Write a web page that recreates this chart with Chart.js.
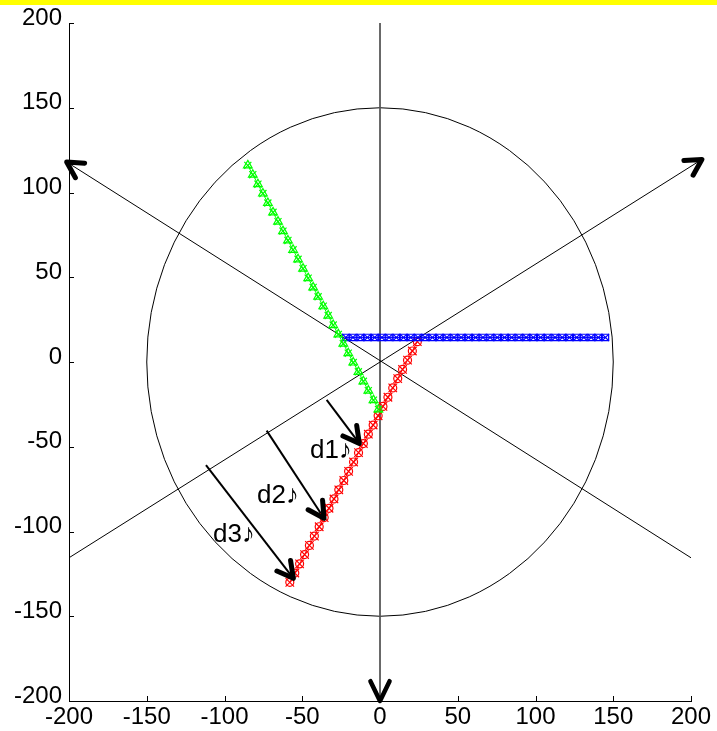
<!DOCTYPE html>
<html>
<head>
<meta charset="utf-8">
<script src="https://cdn.jsdelivr.net/npm/chart.js@4/dist/chart.umd.min.js"></script>
<style>
  html, body { margin: 0; padding: 0; background: #ffffff; }
  #plot { display: block; }
</style>
</head>
<body>
<canvas id="plot" width="717" height="731"></canvas>
<script>
// Axis range and ticks
const axisMin = -200;
const axisMax = 200;
const tickStep = 50;

// Big circle round the origin
const circleRadius = 150;

// Green series (-60 deg)
const greenX = [-85, -81.8, -78.5, -75.3, -72.1, -68.8, -65.6, -62.4, -59.2, -55.9, -52.7, -49.5, -46.2, -43,
    -39.8, -36.5, -33.3, -30.1, -26.8, -23.6, -20.4, -17.2, -13.9, -10.7, -7.5, -4.2, -1];
const greenY = [116, 110.5, 104.9, 99.4, 93.8, 88.3, 82.8, 77.2, 71.7, 66.2, 60.6, 55.1, 49.5, 44,
    38.5, 32.9, 27.4, 21.8, 16.3, 10.8, 5.2, -0.3, -5.8, -11.4, -16.9, -22.5, -28];

// Blue series (horizontal)
const blueX = [-22, -17.4, -12.7, -8.1, -3.4, 1.2, 5.8, 10.5, 15.1, 19.8, 24.4, 29, 33.7, 38.3, 43, 47.6, 52.2,
    56.9, 61.5, 66.2, 70.8, 75.4, 80.1, 84.7, 89.4, 94, 98.6, 103.3, 107.9, 112.6, 117.2, 121.8, 126.5,
    131.1, 135.8, 140.4, 145];
const blueY = [14.5, 14.5, 14.5, 14.5, 14.5, 14.5, 14.5, 14.5, 14.5, 14.5, 14.5, 14.5, 14.5, 14.5, 14.5, 14.5, 14.5,
    14.5, 14.5, 14.5, 14.5, 14.5, 14.5, 14.5, 14.5, 14.5, 14.5, 14.5, 14.5, 14.5, 14.5, 14.5, 14.5,
    14.5, 14.5, 14.5, 14.5];

// Red series (+60 deg)
const redX = [-58, -54.8, -51.7, -48.5, -45.4, -42.2, -39.1, -35.9, -32.8, -29.6, -26.5, -23.3, -20.2, -17,
    -13.8, -10.7, -7.5, -4.4, -1.2, 1.9, 5.1, 8.2, 11.4, 14.5, 17.7, 20.8, 24];
const redY = [-130, -124.5, -119.1, -113.6, -108.2, -102.7, -97.2, -91.8, -86.3, -80.8, -75.4, -69.9, -64.5, -59,
    -53.5, -48.1, -42.6, -37.2, -31.7, -26.2, -20.8, -15.3, -9.8, -4.4, 1.1, 6.5, 12];

// Axis lines through the origin, arrow at the last point
const lineAX = [-200, 207];
const lineAY = [-115.5, 119.5];
const lineBX = [200, -201.5];
const lineBY = [-115.5, 118];
const lineCX = [0, 0];
const lineCY = [200, -200];

// Distance arrows d1..d3
const d1X = [-34.3, -13.3];
const d1Y = [-22.4, -48];
const d2X = [-72.9, -36];
const d2Y = [-40.5, -92.2];
const d3X = [-111.9, -55.7];
const d3Y = [-60.8, -127.6];

// Labels for the arrows
const labelTexts = ["d1\u266A", "d2\u266A", "d3\u266A"];
const labelX = [-45, -79.1, -107.4];
const labelY = [-56.6, -83.2, -106.2];

function toPoints(xs, ys) {
    return xs.map((x, i) => ({ x: x, y: ys[i] }));
}

function markerSet(xs, ys, color, style, radius, withLine) {
    return {
        data: toPoints(xs, ys),
        showLine: withLine,
        borderColor: color,
        borderWidth: 1,
        pointStyle: style,
        pointRadius: radius,
        pointBorderColor: color,
        pointBackgroundColor: "rgba(0,0,0,0)",
        pointBorderWidth: 1.2
    };
}

function arrowSet(xs, ys, width, color, head) {
    return {
        data: toPoints(xs, ys),
        showLine: true,
        borderColor: color,
        borderWidth: width,
        pointRadius: 0,
        clip: false,
        arrowHead: head
    };
}

// Yellow strip at the very top
const topStrip = {
    id: "topStrip",
    beforeDraw(chart) {
        const ctx = chart.ctx;
        ctx.save();
        ctx.fillStyle = "#ffff00";
        ctx.fillRect(0, 0, chart.width, 5);
        ctx.restore();
    }
};

// Circle drawn from the scales
const circlePlugin = {
    id: "circlePlugin",
    beforeDatasetsDraw(chart) {
        const xs = chart.scales.x, ys = chart.scales.y;
        const cx = xs.getPixelForValue(0), cy = ys.getPixelForValue(0);
        const rx = xs.getPixelForValue(circleRadius) - cx;
        const ry = cy - ys.getPixelForValue(circleRadius);
        const ctx = chart.ctx;
        ctx.save();
        ctx.strokeStyle = "#000000";
        ctx.lineWidth = 1;
        ctx.beginPath();
        ctx.ellipse(cx, cy, rx, ry, 0, 0, Math.PI * 2);
        ctx.stroke();
        ctx.restore();
    }
};

// Arrow heads, inward ticks and the d labels
const extrasPlugin = {
    id: "extrasPlugin",
    afterDatasetsDraw(chart) {
        const ctx = chart.ctx;
        ctx.save();
        chart.data.datasets.forEach((ds, i) => {
            if (!ds.arrowHead) return;
            const pts = chart.getDatasetMeta(i).data;
            const a = pts[pts.length - 2], b = pts[pts.length - 1];
            const ang = Math.atan2(b.y - a.y, b.x - a.x);
            const len = ds.arrowHead.len, spread = ds.arrowHead.spread;
            ctx.strokeStyle = "#000000";
            ctx.lineWidth = ds.arrowHead.width;
            ctx.lineCap = "round";
            ctx.lineJoin = "round";
            ctx.beginPath();
            ctx.moveTo(b.x - len * Math.cos(ang - spread), b.y - len * Math.sin(ang - spread));
            ctx.lineTo(b.x, b.y);
            ctx.lineTo(b.x - len * Math.cos(ang + spread), b.y - len * Math.sin(ang + spread));
            ctx.stroke();
        });

        const xs = chart.scales.x, ys = chart.scales.y;
        ctx.fillStyle = "#000000";
        ctx.font = '26px "Liberation Sans", "DejaVu Sans", sans-serif';
        ctx.textAlign = "left";
        ctx.textBaseline = "alphabetic";
        labelTexts.forEach((t, i) => {
            ctx.fillText(t, xs.getPixelForValue(labelX[i]), ys.getPixelForValue(labelY[i]));
        });
        ctx.restore();
    },
    afterDraw(chart) {
        const ctx = chart.ctx;
        const area = chart.chartArea;
        const xs = chart.scales.x, ys = chart.scales.y;
        ctx.save();
        ctx.strokeStyle = "#000000";
        ctx.lineWidth = 1;
        ctx.beginPath();
        xs.ticks.forEach(t => {
            const px = Math.round(xs.getPixelForValue(t.value)) + 0.5;
            ctx.moveTo(px, area.bottom);
            ctx.lineTo(px, area.bottom - 5);
        });
        ys.ticks.forEach(t => {
            const py = Math.round(ys.getPixelForValue(t.value)) + 0.5;
            ctx.moveTo(area.left, py);
            ctx.lineTo(area.left + 5, py);
        });
        ctx.stroke();
        ctx.restore();
    }
};

const tickFont = { family: '"Liberation Sans", Arial, sans-serif', size: 24 };

new Chart(document.getElementById("plot"), {
    type: "scatter",
    data: {
        datasets: [
            markerSet(greenX, greenY, "#00ff00", "triangle", 5, true),
            markerSet(greenX, greenY, "#00ff00", "crossRot", 5, false),
            markerSet(blueX, blueY, "#0000ff", "rect", 4.5, true),
            markerSet(blueX, blueY, "#0000ff", "crossRot", 5, false),
            markerSet(redX, redY, "#ff0000", "circle", 4, true),
            markerSet(redX, redY, "#ff0000", "crossRot", 6, false),
            arrowSet(lineAX, lineAY, 1, "#000000", { len: 18, width: 5, spread: 0.5 }),
            arrowSet(lineBX, lineBY, 1, "#000000", { len: 18, width: 5, spread: 0.5 }),
            arrowSet(lineCX, lineCY, 1, "#555555", { len: 22, width: 4.5, spread: 0.45 }),
            arrowSet(d1X, d1Y, 2, "#000000", { len: 18, width: 5, spread: 0.5 }),
            arrowSet(d2X, d2Y, 2, "#000000", { len: 18, width: 5, spread: 0.5 }),
            arrowSet(d3X, d3Y, 2, "#000000", { len: 18, width: 5, spread: 0.5 })
        ]
    },
    options: {
        responsive: false,
        animation: false,
        devicePixelRatio: 1,
        layout: {
            padding: { top: 23, right: 26, bottom: 0, left: 0 }
        },
        plugins: {
            legend: { display: false },
            tooltip: { enabled: false }
        },
        scales: {
            x: {
                type: "linear",
                min: axisMin,
                max: axisMax,
                afterFit(scale) { scale.height = 30; },
                grid: { drawOnChartArea: false, drawTicks: false },
                border: { display: true, color: "#000000", width: 1 },
                ticks: { stepSize: tickStep, color: "#000000", font: tickFont, padding: 2, maxRotation: 0 }
            },
            y: {
                type: "linear",
                min: axisMin,
                max: axisMax,
                afterFit(scale) { scale.width = 69; },
                grid: { drawOnChartArea: false, drawTicks: false },
                border: { display: true, color: "#000000", width: 1 },
                ticks: { stepSize: tickStep, color: "#000000", font: tickFont, padding: 7, labelOffset: -5 }
            }
        }
    },
    plugins: [topStrip, circlePlugin, extrasPlugin]
});
</script>
</body>
</html>
